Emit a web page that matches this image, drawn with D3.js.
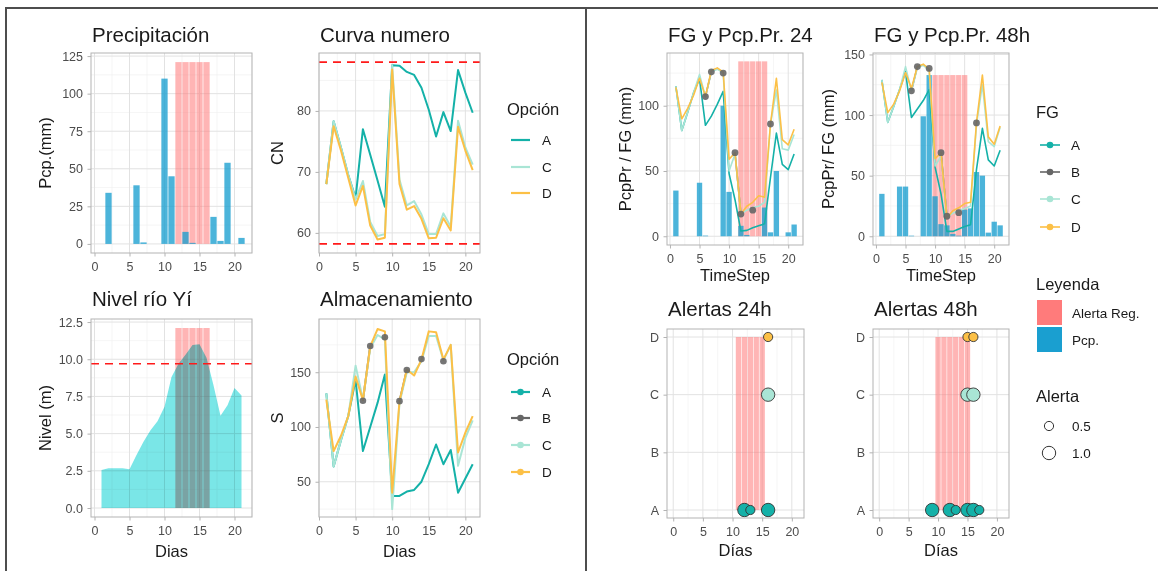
<!DOCTYPE html>
<html><head><meta charset="utf-8">
<script src="https://cdn.jsdelivr.net/npm/d3@7"></script>
<style>
body{margin:0;background:#fff;}
svg{display:block;font-family:"Liberation Sans",Arial,sans-serif;}
.tick text{fill:#4d4d4d;font-size:12.5px;}
.tick line{stroke:#b3b3b3;}
.gmaj{stroke:#e2e2e2;stroke-width:1;}
.gmin{stroke:#efefef;stroke-width:0.6;}
.title{font-size:20.5px;fill:#1a1a1a;}
.axt{font-size:16.5px;fill:#1a1a1a;}
.lgt{font-size:16.5px;fill:#1a1a1a;}
.lgl{font-size:13.5px;fill:#1a1a1a;}
</style></head><body>
<svg id="c" width="1158" height="571"></svg>
<script>
const days = d3.range(1, 22);
const opts = ['A', 'B', 'C', 'D'];
const optColors = {A: '#14b1a8', B: '#666666', C: '#a9e5d5', D: '#fcc046'};
const pinkColor = '#ff7b7b';
const pcpColor = '#1a9fd0';
const xTicks = [0, 5, 10, 15, 20];

// observed alert days (left panels)
const alertObsDays = [12, 13, 14, 15, 16];
const alertObsPcp = 121;
const alertObsNivel = 12.1;

const precip = [0, 34, 0, 0, 0, 39, 1, 0, 0, 110, 45, 0, 8, 0.7, 0, 0, 18, 2, 54, 0, 4];
const nivel = [2.56, 2.67, 2.67, 2.67, 2.6, 3.56, 4.45, 5.23, 5.83, 6.8, 8.8, 9.7, 10.3, 10.95, 11.0, 10.1, 8.25, 6.2, 6.9, 8.06, 7.57];
const nivelUmbral = 9.7;

const cnA = [68, 78.3, 74, 69.5, 65.7, 77, 72.8, 68.6, 64.3, 87.5, 87.4, 86.4, 85.9, 83.8, 80.2, 75.8, 79.8, 76.7, 86.7, 83, 79.7];
const cnC = [68, 78.3, 74, 69.5, 65.5, 68.5, 61.8, 59.5, 59.8, 87.5, 68.7, 64.5, 65.2, 63, 59.8, 59.8, 63.2, 61, 78.4, 74, 71.2];
const cnD = [68, 77.5, 73.5, 69, 64.5, 67.7, 61.2, 58.9, 59.2, 86.8, 68, 63.8, 64.4, 62.3, 59.1, 59.2, 62.4, 60.4, 77.4, 73.5, 70.3];
const cnLimits = [88, 58.2];

const sA = [130.6, 64, 88, 110, 143, 78, 100, 122, 148, 37, 37, 41, 42.5, 50, 66, 84, 66, 79, 40, 53, 66];
const sB = [null, null, null, null, null, 124, 174, null, 182, null, 123.6, 152, null, 162, null, null, 160, null, null, null, null];
const sC = [130.6, 64, 88, 110, 156, 125, 172, 184, 180, 25, 122, 150, 150, 160, 183, 183, 161, 175, 64.5, 90, 106];
const sD = [125, 78, 92, 110, 146, 124.5, 173.6, 189.4, 187.3, 40, 123.6, 152.4, 147, 161.5, 187.3, 186.4, 161.5, 175, 76.7, 94.8, 110];

const pcp24 = [35, 0, 0, 0, 41, 0.5, 0, 0, 100, 34, 0, 8, 1, 0, 0, 22, 3, 50, 0, 3, 9];
const fg24A = [115, 81, 95, 110, 121, 85, 92, 101, 111, 48, 28, 4, 4.5, 6.5, 8, 9.5, 45, 79, 55, 51, 63];
const fg24B = [null, null, null, null, null, 107, 126, null, 125, null, 64, 17, null, 20, null, null, 86, null, null, null, null];
const fg24C = [115, 81, 95, 110, 124, 107, 126, 128, 125, 50, 63, 17, 20, 22, 23, 26, 86, 112, 67, 66, 78];
const fg24D = [114, 90, 98, 108, 121, 107, 127, 129, 126, 59, 64, 17, 23, 26, 31, 30, 86, 121, 74, 70, 82];
const alert24Days = [12, 13, 14, 15, 16];
const alert24Top = 134;

const pcp48 = [35, 0, 0, 41, 41, 0.5, 0, 99, 133, 33, 10, 9, 2, 0.5, 22, 23, 53, 50, 3, 12, 9];
const fg48A = [129, 94, 107, 121, 136, 98, 105, 112, 121, 57, 35, 4, 4, 6, 8, 9.5, 55, 89, 63, 58, 71];
const fg48B = [null, null, null, null, null, 120, 140, null, 138.5, null, 69, 16.5, null, 19.5, null, null, 93.5, null, null, null, null];
const fg48C = [129, 94, 107, 121, 140, 120, 139, 141, 137, 58, 66, 16, 19, 21, 23, 25, 92, 125, 78, 74, 90];
const fg48D = [127, 102, 109, 120, 135, 122, 140, 142, 138, 64, 69, 15, 21, 23.5, 27, 28, 94, 133, 82, 76, 91];
const alert48Days = [10, 11, 12, 13, 14, 15];
const alert48Top = 133;

// alert points: [day, size]
const al24 = {A: [[12, 1], [13, 0.5], [16, 1]], B: [], C: [[16, 1]], D: [[16, 0.5]]};
const al48 = {A: [[9, 1], [12, 1], [13, 0.5], [15, 1], [16, 1], [17, 0.5]], B: [], C: [[15, 1], [16, 1]], D: [[15, 0.5], [16, 0.5]]};
const al24Days = [11, 12, 13, 14, 15];
const al48Days = [10, 11, 12, 13, 14, 15];
const sizeVals = [0.5, 1.0];

const svg = d3.select('#c');
const rSize = d3.scaleLinear().domain([0.5, 1]).range([4.6, 6.7]);

// frame
svg.append('path').attr('d', 'M6,571 V8 H1158 M586,8 V571')
  .attr('fill', 'none').attr('stroke', '#4d4d4d').attr('stroke-width', 2);

function text(x, y, str, cls, anchor, rot) {
  const t = svg.append('text').attr('class', cls).attr('text-anchor', anchor || 'start').text(str);
  if (rot) t.attr('transform', `translate(${x},${y}) rotate(-90)`);
  else t.attr('x', x).attr('y', y);
  return t;
}

function panel(o) {
  const x = d3.scaleLinear().domain(o.xd).range([o.l, o.r]);
  const y = o.cats
    ? d3.scalePoint().domain(o.cats).range([o.b - o.pad, o.t + o.pad])
    : d3.scaleLinear().domain(o.yd).range([o.b, o.t]);
  const g = svg.append('g');
  const grid = g.append('g');
  const minor = (ticks, dom) => {
    const s = ticks[1] - ticks[0], out = [];
    for (let t = ticks[0] - s / 2; t <= dom[1] + 1e-9; t += s) if (t >= dom[0]) out.push(t);
    return out;
  };
  minor(o.xt, o.xd).forEach(v => grid.append('line').attr('class', 'gmin')
    .attr('x1', x(v)).attr('x2', x(v)).attr('y1', o.t).attr('y2', o.b));
  if (!o.cats) minor(o.yt, o.yd).forEach(v => grid.append('line').attr('class', 'gmin')
    .attr('y1', y(v)).attr('y2', y(v)).attr('x1', o.l).attr('x2', o.r));
  o.xt.forEach(v => grid.append('line').attr('class', 'gmaj')
    .attr('x1', x(v)).attr('x2', x(v)).attr('y1', o.t).attr('y2', o.b));
  (o.cats || o.yt).forEach(v => grid.append('line').attr('class', 'gmaj')
    .attr('y1', y(v)).attr('y2', y(v)).attr('x1', o.l).attr('x2', o.r));
  const marks = g.append('g');
  const done = () => {
    g.append('rect').attr('x', o.l).attr('y', o.t).attr('width', o.r - o.l).attr('height', o.b - o.t)
      .attr('fill', 'none').attr('stroke', '#b3b3b3').attr('stroke-width', 1);
    g.append('g').attr('transform', `translate(0,${o.b})`)
      .call(d3.axisBottom(x).tickValues(o.xt).tickSize(3.5).tickPadding(6))
      .call(a => a.select('.domain').remove());
    const ya = d3.axisLeft(y).tickSize(3.5).tickPadding(4.5);
    if (!o.cats) ya.tickValues(o.yt);
    if (o.yf) ya.tickFormat(o.yf);
    g.append('g').attr('transform', `translate(${o.l},0)`).call(ya)
      .call(a => a.select('.domain').remove());
    text(o.l + 1, o.ty, o.title, 'title');
    if (o.xlab) text((o.l + o.r) / 2, o.xly, o.xlab, 'axt', 'middle');
    if (o.ylab) text(o.ylx, (o.t + o.b) / 2, o.ylab, 'axt', 'middle', true);
  };
  return {x, y, marks, done};
}

function alertBars(p, dayList, top) {
  p.marks.selectAll(null).data(dayList).enter().append('rect')
    .attr('x', d => p.x(d - 0.45)).attr('width', d => p.x(d + 0.45) - p.x(d - 0.45))
    .attr('y', p.y(top)).attr('height', p.y(0) - p.y(top))
    .attr('fill', pinkColor).attr('opacity', 0.56);
}
function pcpBars(p, vals) {
  p.marks.selectAll(null).data(days.map((d, i) => ({d, v: vals[i]})).filter(e => e.v > 0)).enter().append('rect')
    .attr('x', e => p.x(e.d - 0.45)).attr('width', e => p.x(e.d + 0.45) - p.x(e.d - 0.45))
    .attr('y', e => p.y(e.v)).attr('height', e => p.y(0) - p.y(e.v))
    .attr('fill', pcpColor).attr('opacity', 0.78);
}
function series(p, vals, color, w) {
  const line = d3.line().defined(d => d.v != null).x(d => p.x(d.d)).y(d => p.y(d.v));
  p.marks.append('path').datum(days.map((d, i) => ({d, v: vals[i]})))
    .attr('d', line).attr('fill', 'none').attr('stroke', color).attr('stroke-width', w)
    .attr('stroke-linejoin', 'round');
}
function points(p, vals, color, r) {
  p.marks.selectAll(null).data(days.map((d, i) => ({d, v: vals[i]})).filter(e => e.v != null)).enter()
    .append('circle').attr('cx', e => p.x(e.d)).attr('cy', e => p.y(e.v)).attr('r', r)
    .attr('fill', color).attr('opacity', 0.9);
}
function hline(p, v) {
  p.marks.append('line').attr('x1', p.x.range()[0]).attr('x2', p.x.range()[1])
    .attr('y1', p.y(v)).attr('y2', p.y(v)).attr('stroke', '#ff1a1a').attr('stroke-width', 1.6)
    .attr('stroke-dasharray', '8,6');
}

// 1. Precipitación
const p1 = panel({l: 91, r: 252, t: 53, b: 253, xd: [-0.5, 22.5], yd: [-6.05, 127.05], xt: xTicks,
  yt: [0, 25, 50, 75, 100, 125], title: 'Precipitación', ty: 42, ylab: 'Pcp.(mm)', ylx: 51});
alertBars(p1, alertObsDays, alertObsPcp);
pcpBars(p1, precip);
p1.done();

// 2. Curva numero
const p2 = panel({l: 319, r: 480, t: 53, b: 253, xd: [0, 22], yd: [56.7, 89.5], xt: xTicks,
  yt: [60, 70, 80], title: 'Curva numero', ty: 42, ylab: 'CN', ylx: 283});
cnLimits.forEach(v => hline(p2, v));
series(p2, cnA, optColors.A, 2);
series(p2, cnC, optColors.C, 2);
series(p2, cnD, optColors.D, 2);
p2.done();

// 3. Nivel río Yí
const p3 = panel({l: 91, r: 252, t: 319, b: 517, xd: [-0.5, 22.5], yd: [-0.605, 12.705], xt: xTicks,
  yt: [0, 2.5, 5, 7.5, 10, 12.5], yf: d3.format('.1f'), title: 'Nivel río Yí', ty: 306,
  xlab: 'Dias', xly: 557, ylab: 'Nivel (m)', ylx: 51});
alertBars(p3, alertObsDays, alertObsNivel);
p3.marks.append('path').datum(days.map((d, i) => ({d, v: nivel[i]})))
  .attr('d', d3.area().x(e => p3.x(e.d)).y0(p3.y(0)).y1(e => p3.y(e.v)))
  .attr('fill', '#00ced1').attr('opacity', 0.52).style('mix-blend-mode', 'multiply');
hline(p3, nivelUmbral);
p3.done();

// 4. Almacenamiento
const p4 = panel({l: 319, r: 480, t: 319, b: 517, xd: [0, 22], yd: [17.8, 198.6], xt: xTicks,
  yt: [50, 100, 150], title: 'Almacenamiento', ty: 306, xlab: 'Dias', xly: 557, ylab: 'S', ylx: 283});
series(p4, sA, optColors.A, 2);
series(p4, sB, optColors.B, 2);
series(p4, sC, optColors.C, 2);
series(p4, sD, optColors.D, 2);
points(p4, sB, optColors.B, 3.3);
p4.done();

// 5. FG 24
const p5 = panel({l: 667, r: 803, t: 53, b: 245, xd: [-0.5, 22.5], yd: [-6.7, 140.4], xt: xTicks,
  yt: [0, 50, 100], title: 'FG y Pcp.Pr. 24', ty: 42, xlab: 'TimeStep', xly: 281,
  ylab: 'PcpPr / FG (mm)', ylx: 631});
alertBars(p5, alert24Days, alert24Top);
pcpBars(p5, pcp24);
series(p5, fg24A, optColors.A, 1.6);
series(p5, fg24B, optColors.B, 1.6);
series(p5, fg24C, optColors.C, 1.6);
series(p5, fg24D, optColors.D, 1.6);
points(p5, fg24B, optColors.B, 3.4);
p5.done();

// 6. FG 48
const p6 = panel({l: 873, r: 1009, t: 53, b: 245, xd: [-0.5, 22.5], yd: [-7.2, 151.2], xt: xTicks,
  yt: [0, 50, 100, 150], title: 'FG y Pcp.Pr. 48h', ty: 42, xlab: 'TimeStep', xly: 281,
  ylab: 'PcpPr/ FG (mm)', ylx: 834});
alertBars(p6, alert48Days, alert48Top);
pcpBars(p6, pcp48);
series(p6, fg48A, optColors.A, 1.6);
series(p6, fg48B, optColors.B, 1.6);
series(p6, fg48C, optColors.C, 1.6);
series(p6, fg48D, optColors.D, 1.6);
points(p6, fg48B, optColors.B, 3.4);
p6.done();

// 7/8. Alertas
function alertPanel(l, r, title, barDays, pts) {
  const p = panel({l, r, t: 329, b: 518, xd: [-1.05, 22.05], cats: opts, pad: 8, xt: xTicks,
    title, ty: 316, xlab: 'Días', xly: 556});
  p.marks.selectAll(null).data(barDays).enter().append('rect')
    .attr('x', d => p.x(d - 0.45)).attr('width', d => p.x(d + 0.45) - p.x(d - 0.45))
    .attr('y', p.y('D')).attr('height', p.y('A') - p.y('D'))
    .attr('fill', pinkColor).attr('opacity', 0.56);
  opts.forEach(k => {
    p.marks.selectAll(null).data(pts[k]).enter().append('circle')
      .attr('cx', e => p.x(e[0])).attr('cy', p.y(k)).attr('r', e => rSize(e[1]))
      .attr('fill', optColors[k]).attr('stroke', '#333').attr('stroke-width', 0.9);
  });
  p.done();
}
alertPanel(667, 804, 'Alertas 24h', al24Days, al24);
alertPanel(873, 1009, 'Alertas 48h', al48Days, al48);

// legends
function lineLegend(x0, ty, title, keys, ys, withPts, w, lw) {
  text(x0, ty, title, 'lgt');
  keys.forEach((k, i) => {
    svg.append('line').attr('x1', x0 + 4).attr('x2', x0 + 4 + w).attr('y1', ys[i]).attr('y2', ys[i])
      .attr('stroke', optColors[k]).attr('stroke-width', lw);
    if (withPts) svg.append('circle').attr('cx', x0 + 4 + w / 2).attr('cy', ys[i]).attr('r', 3.3)
      .attr('fill', optColors[k]);
    text(x0 + 35, ys[i] + 5, k, 'lgl');
  });
}
lineLegend(507, 115, 'Opción', ['A', 'C', 'D'], [140, 167, 193], false, 19, 2.2);
lineLegend(507, 365, 'Opción', opts, [392, 418, 445, 472], true, 19, 2.2);
lineLegend(1036, 118, 'FG', opts, [145, 172, 199, 227], true, 20, 1.6);

text(1036, 290, 'Leyenda', 'lgt');
[['Alerta Reg.', pinkColor, 300], ['Pcp.', pcpColor, 327]].forEach(([lab, col, yy]) => {
  svg.append('rect').attr('x', 1037).attr('y', yy).attr('width', 25).attr('height', 25).attr('fill', col);
  text(1072, yy + 17.5, lab, 'lgl');
});
text(1036, 402, 'Alerta', 'lgt');
sizeVals.forEach((v, i) => {
  const yy = 426 + i * 27;
  svg.append('circle').attr('cx', 1049).attr('cy', yy).attr('r', rSize(v))
    .attr('fill', 'none').attr('stroke', '#333').attr('stroke-width', 1);
  text(1072, yy + 5, d3.format('.1f')(v), 'lgl');
});
</script>
</body></html>
